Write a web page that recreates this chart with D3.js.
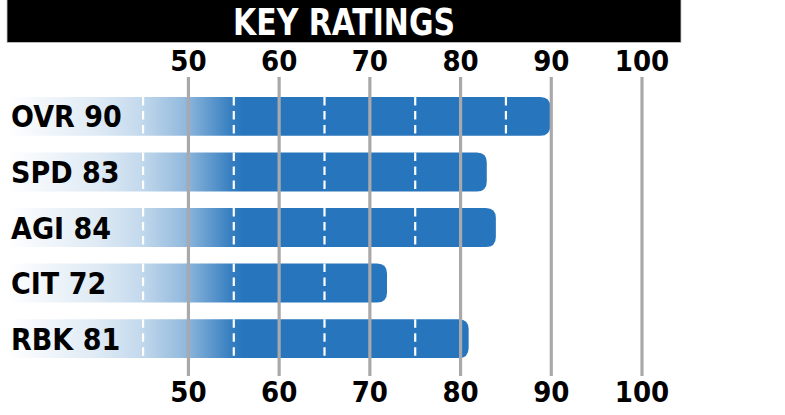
<!DOCTYPE html>
<html><head><meta charset="utf-8">
<script src="https://cdn.jsdelivr.net/npm/d3@7"></script>
<style>html,body{margin:0;padding:0;background:#fff;}svg{display:block;}</style>
</head><body>
<script>
const title = "KEY RATINGS";
const categories = ["OVR", "SPD", "AGI", "CIT", "RBK"];
const values = [90, 83, 84, 72, 81];
const gridTicks = [50, 60, 70, 80, 90, 100];
const dashTicks = [45, 55, 65, 75, 85];

const W = 785, H = 415;
const svg = d3.select("body").append("svg").attr("width", W).attr("height", H);
const font = "'DejaVu Sans Condensed', 'DejaVu Sans', sans-serif";

const x = d3.scaleLinear().domain([30, 100]).range([7, 642]);
const y = d3.scaleBand().domain(categories).range([97, 358]).paddingInner(0.3).paddingOuter(0);
const blue = "#2775bc";

const defs = svg.append("defs");
const grad = defs.append("linearGradient").attr("id", "g").attr("gradientUnits", "userSpaceOnUse")
  .attr("x1", x(30)).attr("x2", x(56)).attr("y1", 0).attr("y2", 0);
[[0, 0.0], [0.4, 0.16], [0.56, 0.27], [0.75, 0.5], [0.95, 0.93], [1, 1]].forEach(([o, a]) =>
  grad.append("stop").attr("offset", o).attr("stop-color", blue).attr("stop-opacity", a));

// title bar
svg.append("rect").attr("x", 7).attr("y", -2).attr("width", 674).attr("height", 44.5)
  .attr("fill", "#000").attr("stroke", "#c8c8c8").attr("stroke-width", 0.8);
svg.append("text").attr("x", 344).attr("y", 35).attr("text-anchor", "middle")
  .attr("font-family", font).attr("font-weight", "bold").attr("font-size", 37)
  .attr("textLength", 222).attr("lengthAdjust", "spacingAndGlyphs")
  .attr("fill", "#fff").text(title);

// bars: square left end, rounded right end
const r = 10;
const rows = svg.append("g").selectAll("g").data(categories).join("g");
rows.append("path")
  .attr("d", (c, i) => {
    const x0 = x(30), x1 = x(values[i]) - 1, y0 = y(c), h = y.bandwidth();
    return `M${x0},${y0} H${x1 - r} Q${x1},${y0} ${x1},${y0 + r} V${y0 + h - r} Q${x1},${y0 + h} ${x1 - r},${y0 + h} H${x0} Z`;
  })
  .attr("fill", "url(#g)");

// white dashed lines inside bars
rows.each(function (c, i) {
  d3.select(this).selectAll("line").data(dashTicks.filter(t => t < values[i])).join("line")
    .attr("x1", t => x(t)).attr("x2", t => x(t))
    .attr("y1", y(c)).attr("y2", y(c) + y.bandwidth())
    .attr("stroke", "#fff").attr("stroke-width", 2.2).attr("stroke-dasharray", "8.5,5.5");
});

// gridlines
svg.append("g").selectAll("line").data(gridTicks).join("line")
  .attr("x1", d => x(d)).attr("x2", d => x(d)).attr("y1", 77).attr("y2", 376)
  .attr("stroke", "#a9a9ab").attr("stroke-width", 3.2);

// tick labels top & bottom
[71, 402].forEach(by => {
  svg.append("g").selectAll("text").data(gridTicks).join("text")
    .attr("x", d => x(d)).attr("y", by).attr("text-anchor", "middle")
    .attr("font-family", font).attr("font-weight", "bold").attr("font-size", 29)
    .attr("fill", "#000").text(d => d);
});

// row labels
rows.append("text")
  .attr("x", 11).attr("y", c => y(c) + y.bandwidth() / 2 + 11)
  .attr("font-family", font).attr("font-weight", "bold").attr("font-size", 30)
  .attr("fill", "#000").text((c, i) => `${c} ${values[i]}`);
</script>
</body></html>
